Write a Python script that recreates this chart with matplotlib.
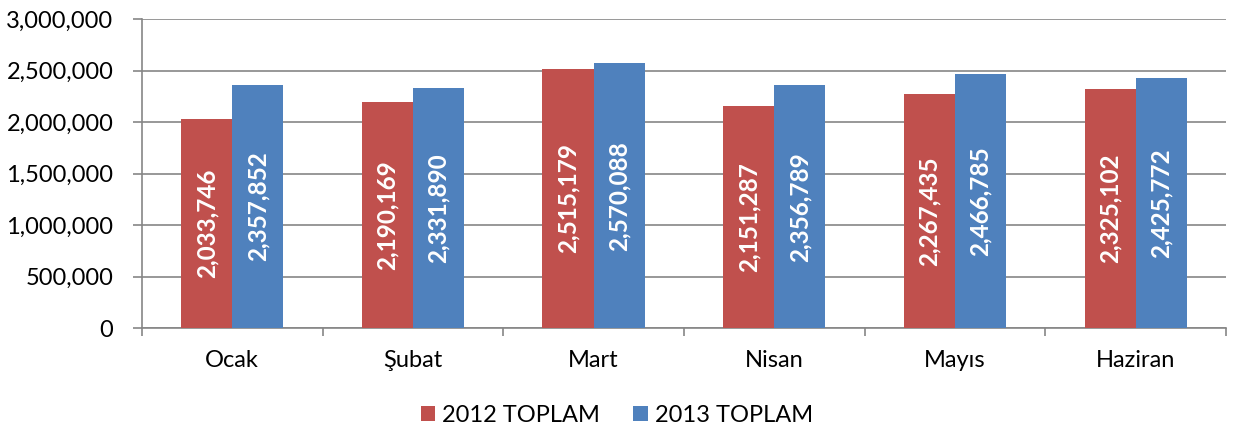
import numpy as np
import matplotlib.pyplot as plt
from matplotlib.ticker import FuncFormatter, FixedLocator

# Data
months = ['Ocak', 'Şubat', 'Mart', 'Nisan', 'Mayıs', 'Haziran']
toplam_2012 = [2033746, 2190169, 2515179, 2151287, 2267435, 2325102]
toplam_2013 = [2357852, 2331890, 2570088, 2356789, 2466785, 2425772]

plt.rcParams['font.family'] = ['Lato', 'DejaVu Sans']

fig = plt.figure(figsize=(12.34, 4.32), dpi=100)
ax = fig.add_axes([0.115, 0.2407, 0.8785, 0.7153])

x = np.arange(len(months))
w = 0.283
grid_c = '#868686'
b1 = ax.bar(x - w / 2, toplam_2012, w, color='#C0504D', label='2012 TOPLAM', zorder=3)
b2 = ax.bar(x + w / 2, toplam_2013, w, color='#4F81BD', label='2013 TOPLAM', zorder=3)

# value labels inside the bars
for bars in (b1, b2):
    for b in bars:
        h = b.get_height()
        ax.text(b.get_x() + b.get_width() / 2, h / 2, f'{h:,.0f}', rotation=90,
                ha='center', va='center', color='white', fontsize=17.5,
                fontweight='bold', zorder=4)

ax.set_xlim(-0.5, len(months) - 0.5)
ax.set_ylim(0, 3000000)
ax.set_yticks(np.arange(0, 3000001, 500000))
ax.yaxis.set_major_formatter(FuncFormatter(lambda v, p: f'{v:,.0f}'))
ax.yaxis.grid(True, color=grid_c, linewidth=1.2, zorder=0)

ax.set_xticks(x)
ax.set_xticklabels(months)
ax.xaxis.set_minor_locator(FixedLocator(np.arange(-0.5, len(months), 1)))
ax.tick_params(axis='x', which='major', length=0, pad=16, labelsize=17)
ax.tick_params(axis='x', which='minor', length=6, color=grid_c, width=1.2)
ax.tick_params(axis='y', length=6.5, color=grid_c, width=1.2, labelsize=17, pad=14)

for s in ['top', 'right']:
    ax.spines[s].set_visible(False)
for s in ['left', 'bottom']:
    ax.spines[s].set_color(grid_c)
    ax.spines[s].set_linewidth(1.2)

fig.legend(loc='center', bbox_to_anchor=(0.5, 0.039), ncol=2, frameon=False,
           fontsize=17, handlelength=0.6, handleheight=0.6, columnspacing=1.4,
           handletextpad=0.3)

fig.savefig('out.png', dpi=100)
